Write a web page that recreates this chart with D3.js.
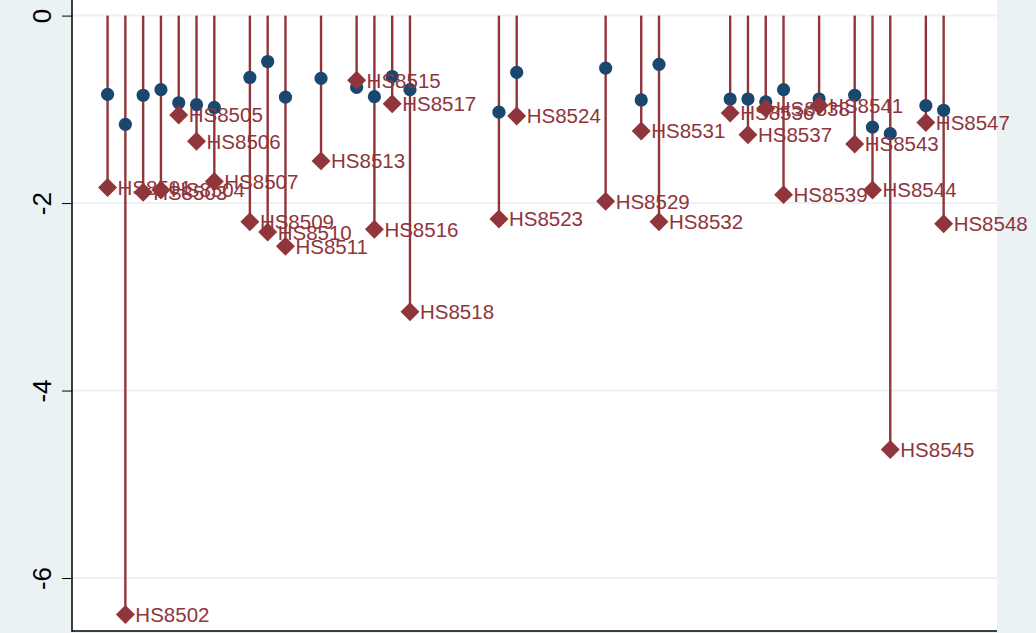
<!DOCTYPE html>
<html>
<head>
<meta charset="utf-8">
<script src="https://cdn.jsdelivr.net/npm/d3@7"></script>
<style>
  body { margin: 0; background: #eaf2f3; }
  svg { display: block; }
</style>
</head>
<body>
<div id="chart"></div>
<script>
// HS codes, blue dot values and red diamond values (diamonds get the labels)
var codes = [8501, 8502, 8503, 8504, 8505, 8506, 8507, 8509, 8510, 8511,
             8513, 8515, 8516, 8517, 8518, 8523, 8524, 8529, 8531, 8532,
             8536, 8537, 8538, 8539, 8541, 8543, 8544, 8545, 8547, 8548];
var dotVals = [-0.84, -1.16, -0.85, -0.79, -0.93, -0.95, -0.98, -0.66, -0.49, -0.87,
               -0.67, -0.765, -0.865, -0.65, -0.79, -1.03, -0.605, -0.56, -0.90, -0.52,
               -0.89, -0.89, -0.92, -0.79, -0.89, -0.85, -1.19, -1.26, -0.96, -1.01];
var diaVals = [-1.835, -6.39, -1.885, -1.86, -1.06, -1.34, -1.77, -2.20, -2.31, -2.46,
               -1.55, -0.69, -2.28, -0.94, -3.16, -2.17, -1.07, -1.98, -1.23, -2.20,
               -1.04, -1.27, -0.99, -1.91, -0.96, -1.37, -1.86, -4.63, -1.14, -2.22];
var yTicks = [0, -2, -4, -6];

var W = 1036, H = 633;
var left = 72, right = 997, bottom = 631;
var navy = "#1a476f", maroon = "#90353b", bg = "#eaf2f3";

var rows = codes.map((c, i) => ({code: c, dot: dotVals[i], dia: diaVals[i], label: "HS" + c}));

var svg = d3.select("#chart").append("svg")
    .attr("width", W)
    .attr("height", H);

svg.append("rect").attr("width", W).attr("height", H).attr("fill", bg);

var x = d3.scaleLinear().domain([8499, 8551]).range([left, right]);
var y = d3.scaleLinear().domain([0, -6]).range([15.6, 578]);

// plot region
svg.append("rect")
    .attr("x", left).attr("y", 0)
    .attr("width", right - left).attr("height", bottom)
    .attr("fill", "#ffffff");

// grid
svg.selectAll(".grid")
    .data(yTicks)
    .enter().append("line")
    .attr("class", "grid")
    .attr("x1", left).attr("x2", right)
    .attr("y1", d => y(d)).attr("y2", d => y(d))
    .attr("stroke", bg)
    .attr("stroke-width", 2);

// y axis (plain hyphen minus like the original)
var yAxis = d3.axisLeft(y).tickValues(yTicks).tickSize(10).tickPadding(12).tickFormat(d => String(d));
var ga = svg.append("g")
    .attr("transform", "translate(" + left + ",0)")
    .call(yAxis);
ga.select(".domain").remove();
ga.selectAll(".tick line").attr("stroke", "#000").attr("stroke-width", 1);
ga.selectAll(".tick text")
    .attr("font-family", "Liberation Sans, Arial, sans-serif")
    .attr("font-size", 26)
    .attr("fill", "#000")
    .attr("transform", "rotate(-90)")
    .attr("x", 0)
    .attr("y", -21)
    .attr("dy", 0)
    .attr("text-anchor", "middle");

svg.append("line")
    .attr("x1", left).attr("x2", left)
    .attr("y1", 0).attr("y2", bottom + 1)
    .attr("stroke", "#000").attr("stroke-width", 1.5);
svg.append("line")
    .attr("x1", left).attr("x2", right)
    .attr("y1", bottom).attr("y2", bottom)
    .attr("stroke", "#000").attr("stroke-width", 1.5);

// spikes from zero
svg.selectAll(".spike")
    .data(rows)
    .enter().append("line")
    .attr("class", "spike")
    .attr("x1", d => x(d.code)).attr("x2", d => x(d.code))
    .attr("y1", y(0)).attr("y2", d => y(d.dia))
    .attr("stroke", maroon)
    .attr("stroke-width", 2.4);

svg.selectAll(".dot")
    .data(rows)
    .enter().append("circle")
    .attr("class", "dot")
    .attr("cx", d => x(d.code))
    .attr("cy", d => y(d.dot))
    .attr("r", 6.6)
    .attr("fill", navy);

var diamond = d3.symbol().type(d3.symbolSquare).size(180);
svg.selectAll(".dia")
    .data(rows)
    .enter().append("path")
    .attr("class", "dia")
    .attr("d", diamond)
    .attr("transform", d => "translate(" + x(d.code) + "," + y(d.dia) + ") rotate(45)")
    .attr("fill", maroon);

svg.selectAll(".label")
    .data(rows)
    .enter().append("text")
    .attr("class", "label")
    .attr("x", d => x(d.code) + 10)
    .attr("y", d => y(d.dia))
    .attr("dy", "0.36em")
    .attr("font-family", "Liberation Sans, Arial, sans-serif")
    .attr("font-size", 20.5)
    .attr("fill", maroon)
    .text(d => d.label);
</script>
</body>
</html>
